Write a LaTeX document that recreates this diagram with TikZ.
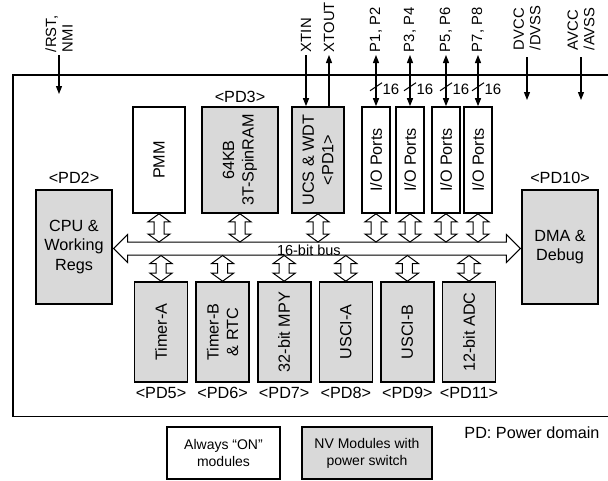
\documentclass[tikz,border=0pt]{standalone}
\usepackage{fontspec}
\setmainfont{Liberation Sans}
\usetikzlibrary{positioning, calc, arrows.meta}
\definecolor{nvgray}{HTML}{D9D9D9}
\tikzstyle{blk}=[draw, line width=1.6pt, font=\fontsize{16.2}{19.5}\selectfont, align=center]
\tikzstyle{onblk}=[blk, fill=white]
\tikzstyle{nvblk}=[blk, fill=nvgray]
\tikzstyle{vtxt}=[rotate=90, align=center, font=\fontsize{16.2}{19.5}\selectfont]
\tikzstyle{pd}=[font=\fontsize{16.2}{19.5}\selectfont, inner sep=1pt]
\tikzstyle{pin}=[rotate=90, anchor=west, align=left, inner sep=1pt, outer sep=2pt, font=\fontsize{14.8}{16.5}\selectfont]
\tikzstyle{sig}=[line width=1.2pt, -{Triangle[width=6pt, length=8pt]}]
\tikzstyle{bsig}=[line width=1.2pt, {Triangle[width=6pt, length=8pt]}-{Triangle[width=6pt, length=8pt]}]
\tikzstyle{arrline}=[draw, fill=white, line width=1pt, line join=miter]
% hollow double arrow: ends, half body, half head, head length
\newcommand{\dblarrow}[5]{%
  \draw[arrline] (#1)
    -- ($(#1)!#5!(#2)!#4!90:(#2)$) -- ($(#1)!#5!(#2)!#3!90:(#2)$)
    -- ($(#2)!#5!(#1)!#3!-90:(#1)$) -- ($(#2)!#5!(#1)!#4!-90:(#1)$)
    -- (#2)
    -- ($(#2)!#5!(#1)!#4!90:(#1)$) -- ($(#2)!#5!(#1)!#3!90:(#1)$)
    -- ($(#1)!#5!(#2)!#3!-90:(#2)$) -- ($(#1)!#5!(#2)!#4!-90:(#2)$)
    -- cycle;}

\begin{document}
\begin{tikzpicture}[x=1pt, y=-1pt, node distance=3pt and 7pt]
\useasboundingbox (0,0) rectangle (608,480);

% chip outline, open on the right
\draw[line width=1.2pt] (608,75) -- (13,75) -- (13,416.5) -- (608,416.5);

\node[nvblk, minimum width=76pt, minimum height=114pt] (cpu) at (74,247) {CPU \&\\Working\\Regs};
\node[nvblk, minimum width=76pt, minimum height=114pt] (dma) at (560,247) {DMA \&\\Debug};
\node[pd, above=5pt of cpu] (pd2) {<PD2>};
\node[pd, above=4pt of dma] (pd10) {<PD10>};

% upper row
\node[onblk, minimum width=52pt, minimum height=106pt, label={[vtxt]center:PMM}] (pmm) at (159,160) {};
\node[nvblk, minimum width=76pt, minimum height=106pt, label={[vtxt]center:64KB\\3T-SpinRAM}] (ram) at (240,160) {};
\node[nvblk, minimum width=52pt, minimum height=106pt, label={[vtxt]center:UCS \& WDT\\<PD1>}] (ucs) at (318,160) {};
\foreach \n/\x in {io1/376, io2/410, io3/446, io4/478}
  \node[onblk, minimum width=28pt, minimum height=106pt, label={[vtxt]center:I/O Ports}] (\n) at (\x,160) {};
\node[pd, above=2pt of ram] (pd3) {<PD3>};

% lower row
\node[nvblk, minimum width=53pt, minimum height=100pt, label={[vtxt]center:Timer-A}] (tma) at (161,332) {};
\node[nvblk, minimum width=53pt, minimum height=100pt, right=of tma, label={[vtxt]center:Timer-B\\\& RTC}] (tmb) {};
\node[nvblk, minimum width=53pt, minimum height=100pt, right=of tmb, label={[vtxt]center:32-bit MPY}] (mpy) {};
\node[nvblk, minimum width=53pt, minimum height=100pt, right=of mpy, label={[vtxt]center:USCI-A}] (uscia) {};
\node[nvblk, minimum width=53pt, minimum height=100pt, right=of uscia, label={[vtxt]center:USCI-B}] (uscib) {};
\node[nvblk, minimum width=53pt, minimum height=100pt, right=of uscib, label={[vtxt]center:12-bit ADC}] (adc) {};
\foreach \n/\p in {tma/5, tmb/6, mpy/7, uscia/8, uscib/9, adc/11}
  \node[pd, below=of \n] (pd\p) {<PD\p>};

% 16-bit bus
\coordinate (busl) at ($(cpu.east)+(0.8,1.5)$);
\coordinate (busr) at ($(dma.west)+(-0.8,1.5)$);
\dblarrow{busl}{busr}{6.5pt}{14pt}{14pt}
\node[font=\fontsize{14.5}{16}\selectfont, inner sep=0pt] (buslbl) at ($(busl)!.48!(busr)+(0,1.5)$) {16-bit bus};
\coordinate (bt) at (0,242);
\coordinate (bb) at (0,255.5);
\foreach \n in {pmm, ram, ucs, io1, io2, io3, io4} {
  \dblarrow{\n.south}{\n.south |- bt}{5pt}{11pt}{8pt}
}
\foreach \n in {tma, tmb, mpy, uscia, uscib, adc} {
  \dblarrow{\n.north}{\n.north |- bb}{5pt}{11pt}{8pt}
}

% pins
\node[pin] (rst) at (59,55) {/RST,\\NMI};
\node[pin] (xtin) at (306,55) {XTIN};
\node[pin] (xtout) at (329,55) {XTOUT};
\node[pin] (p12) at (376,55) {P1, P2};
\node[pin] (p34) at (410,55) {P3, P4};
\node[pin] (p56) at (446,55) {P5, P6};
\node[pin] (p78) at (478,55) {P7, P8};
\node[pin] (dvcc) at (527,53) {DVCC\\/DVSS};
\node[pin] (avcc) at (581,53) {AVCC\\/AVSS};
\coordinate (rstend) at (59,94);
\coordinate (dvend) at (527,100);
\coordinate (avend) at (581,100);

\draw[sig] (rst.west) -- (rstend);
\draw[sig] (xtin.west) -- (xtin.west |- ucs.north);
\draw[sig] (xtout.west |- ucs.north) -- (xtout.west);
\draw[sig, shorten <=4pt] (dvcc.west) -- (dvend);
\draw[sig, shorten <=4pt] (avcc.west) -- (avend);
\foreach \p/\n in {p12/io1, p34/io2, p56/io3, p78/io4} {
  \draw[bsig] (\p.west) -- (\n.north);
  \draw[line width=1pt] ($(\p.west)!.62!(\n.north)$) +(-6,4) -- +(6,-4)
    +(5,3) node[anchor=west, inner sep=1pt, font=\fontsize{15}{17}\selectfont] (w\p) {16};
}

% legend
\node[onblk, line width=1.4pt, minimum width=113pt, minimum height=52pt, font=\fontsize{14}{17}\selectfont] (lgon) at (223.5,453) {Always “ON”\\modules};
\node[nvblk, line width=1.4pt, minimum width=130pt, minimum height=52pt, font=\fontsize{14}{17}\selectfont] (lgnv) at (367,453) {NV Modules with\\power switch};
\node[pd] (pdnote) at (532,433) {PD: Power domain};
\end{tikzpicture}
\end{document}
